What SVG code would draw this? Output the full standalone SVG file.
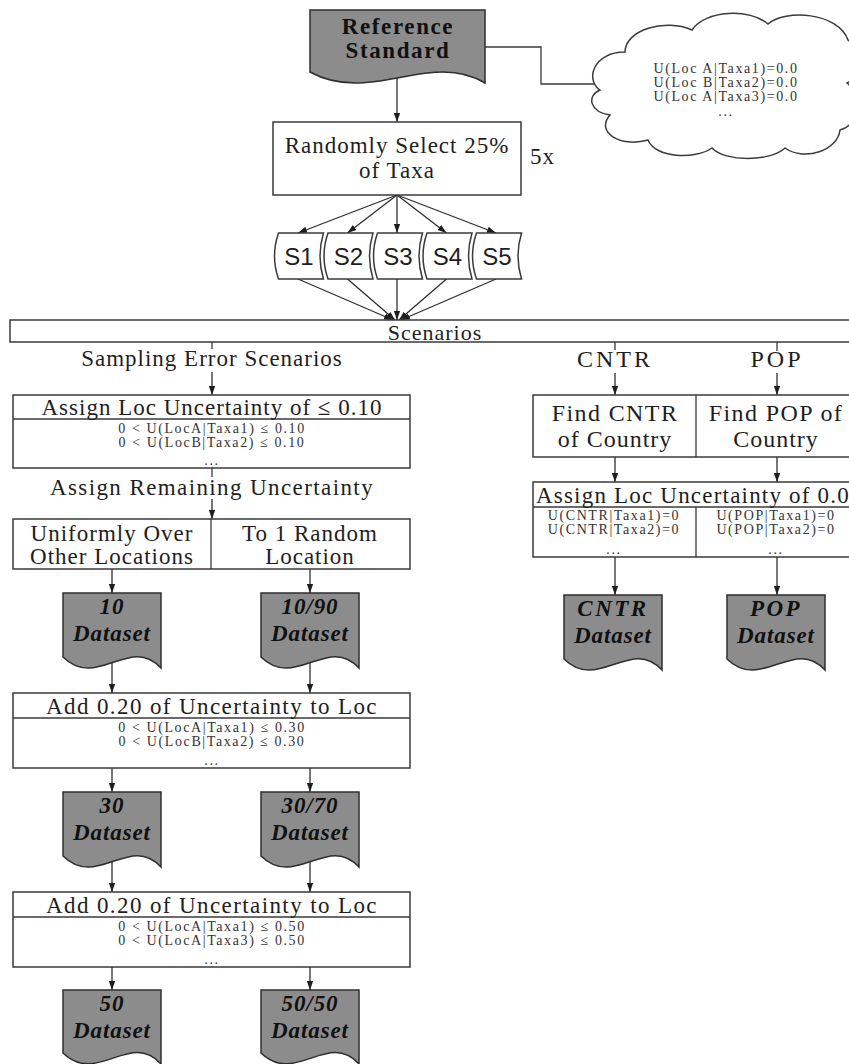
<svg xmlns="http://www.w3.org/2000/svg" width="849" height="1064" viewBox="0 0 849 1064">
<defs>
<style>
.box{fill:#fff;stroke:#3a3a3a;stroke-width:1.5}
.doc{fill:#8c8c8c;stroke:#2e2e2e;stroke-width:1.5}
.ln{fill:none;stroke:#3a3a3a;stroke-width:1.3}
.ar{fill:none;stroke:#2e2e2e;stroke-width:1.3;marker-end:url(#arr)}
.t{font-family:"Liberation Serif",serif;font-size:23px;letter-spacing:1px;fill:#1e1e1e;text-anchor:middle}
.sm{font-family:"Liberation Serif",serif;font-size:14px;letter-spacing:1.6px;fill:#333;text-anchor:middle}
.bd{font-family:"Liberation Serif",serif;font-size:23px;font-weight:bold;letter-spacing:1.6px;fill:#111;text-anchor:middle}
.di{font-family:"Liberation Serif",serif;font-size:23px;font-weight:bold;font-style:italic;letter-spacing:0.9px;fill:#111;text-anchor:middle}
.sa{font-family:"Liberation Sans",Arial,sans-serif;font-size:24px;fill:#1e1e1e;text-anchor:middle}
</style>
<marker id="arr" viewBox="0 0 10 10" refX="10" refY="5" markerWidth="9" markerHeight="9" orient="auto" markerUnits="userSpaceOnUse">
<path d="M0,1.5 L10,5 L0,8.5 Z" fill="#1e1e1e"/>
</marker>
</defs>

<g id="connectors">
<polyline class="ln" points="485,47 541,47 541,84 598,84"/>
<line class="ar" x1="397" y1="78" x2="397" y2="122"/>
<line class="ar" x1="397" y1="195" x2="298" y2="233"/>
<line class="ar" x1="397" y1="195" x2="347.5" y2="233"/>
<line class="ar" x1="397" y1="195" x2="397" y2="233"/>
<line class="ar" x1="397" y1="195" x2="446.5" y2="233"/>
<line class="ar" x1="397" y1="195" x2="496" y2="233"/>
<line class="ar" x1="298" y1="279" x2="393" y2="320"/>
<line class="ar" x1="347.5" y1="279" x2="395" y2="320"/>
<line class="ar" x1="397" y1="279" x2="397" y2="320"/>
<line class="ar" x1="446.5" y1="279" x2="399" y2="320"/>
<line class="ar" x1="496" y1="279" x2="401" y2="320"/>
<line class="ln" x1="212" y1="342" x2="212" y2="349"/>
<line class="ln" x1="615" y1="342" x2="615" y2="350"/>
<line class="ln" x1="777" y1="342" x2="777" y2="351"/>
<line class="ar" x1="212" y1="372" x2="212" y2="395"/>
<line class="ar" x1="615" y1="373" x2="615" y2="395"/>
<line class="ar" x1="777" y1="373" x2="777" y2="395"/>
<line class="ln" x1="212" y1="468" x2="212" y2="477"/>
<line class="ar" x1="212" y1="499" x2="212" y2="519"/>
<line class="ar" x1="112" y1="569" x2="112" y2="593"/>
<line class="ar" x1="310" y1="569" x2="310" y2="593"/>
<line class="ar" x1="112" y1="662" x2="112" y2="693"/>
<line class="ar" x1="310" y1="662" x2="310" y2="693"/>
<line class="ar" x1="112" y1="768" x2="112" y2="792"/>
<line class="ar" x1="310" y1="768" x2="310" y2="792"/>
<line class="ar" x1="112" y1="861" x2="112" y2="892"/>
<line class="ar" x1="310" y1="861" x2="310" y2="892"/>
<line class="ar" x1="112" y1="967" x2="112" y2="990"/>
<line class="ar" x1="310" y1="967" x2="310" y2="990"/>
<line class="ar" x1="615" y1="457" x2="615" y2="482"/>
<line class="ar" x1="777" y1="457" x2="777" y2="482"/>
<line class="ar" x1="615" y1="557" x2="615" y2="595"/>
<line class="ar" x1="777" y1="557" x2="777" y2="595"/>
</g>

<g id="reference-standard">
<path class="doc" d="M310,10 H485 V83 C430,50 370,105 310,72 Z"/>
<text class="bd" x="398" y="34">Reference</text>
<text class="bd" x="398" y="58">Standard</text>
</g>

<g id="cloud">
<path class="box" d="M600,90 C585,80 593,52 625,52 C625,30 665,18 692,30 C705,10 750,8 768,24 C785,9 838,12 848,40 C864,50 862,76 847,83 C862,95 860,125 840,130 C838,150 805,162 785,148 C770,162 725,162 712,148 C695,160 655,158 648,140 C620,148 595,132 610,115 C590,112 586,96 600,90 Z"/>
<text class="sm" x="726" y="73">U(Loc A|Taxa1)=0.0</text>
<text class="sm" x="726" y="87">U(Loc B|Taxa2)=0.0</text>
<text class="sm" x="726" y="101">U(Loc A|Taxa3)=0.0</text>
<text class="sm" x="726" y="116">...</text>
</g>

<g id="random-select">
<rect class="box" x="273" y="122" width="248" height="73"/>
<text class="t" x="397" y="153">Randomly Select 25%</text>
<text class="t" x="397" y="178">of Taxa</text>
<text class="t" x="530" y="164" style="text-anchor:start">5x</text>
</g>

<g id="s1"><path class="box" d="M278.5,233 H323.5 Q316.5,256 323.5,279 H278.5 Q270.5,256 278.5,233 Z"/><text class="sa" x="299" y="265">S1</text></g>
<g id="s2"><path class="box" d="M328,233 H373 Q366,256 373,279 H328 Q320,256 328,233 Z"/><text class="sa" x="348.5" y="265">S2</text></g>
<g id="s3"><path class="box" d="M377.5,233 H422.5 Q415.5,256 422.5,279 H377.5 Q369.5,256 377.5,233 Z"/><text class="sa" x="398" y="265">S3</text></g>
<g id="s4"><path class="box" d="M427,233 H472 Q465,256 472,279 H427 Q419,256 427,233 Z"/><text class="sa" x="447.5" y="265">S4</text></g>
<g id="s5"><path class="box" d="M476.5,233 H521.5 Q514.5,256 521.5,279 H476.5 Q468.5,256 476.5,233 Z"/><text class="sa" x="497" y="265">S5</text></g>

<g id="scenarios">
<rect class="box" x="10" y="320" width="860" height="22"/>
<text class="t" x="435" y="340" style="font-size:22px">Scenarios</text>
</g>

<g id="labels">
<text class="t" x="212" y="366">Sampling Error Scenarios</text>
<text class="t" x="615" y="367" style="font-size:24px;letter-spacing:3px">CNTR</text>
<text class="t" x="777" y="367" style="font-size:24px;letter-spacing:3px">POP</text>
<text class="t" x="212" y="495" style="letter-spacing:1.4px">Assign Remaining Uncertainty</text>
</g>

<g id="assign-010">
<rect class="box" x="13" y="395" width="397" height="73"/>
<line class="ln" x1="13" y1="419" x2="410" y2="419"/>
<text class="t" x="212" y="415">Assign Loc Uncertainty of ≤ 0.10</text>
<text class="sm" x="212" y="433">0 &lt; U(LocA|Taxa1) ≤ 0.10</text>
<text class="sm" x="212" y="447">0 &lt; U(LocB|Taxa2) ≤ 0.10</text>
<text class="sm" x="212" y="465">...</text>
</g>

<g id="remaining">
<rect class="box" x="13" y="519" width="397" height="50"/>
<line class="ln" x1="211" y1="519" x2="211" y2="569"/>
<text class="t" x="112" y="541">Uniformly Over</text>
<text class="t" x="112" y="564">Other Locations</text>
<text class="t" x="310" y="541">To 1 Random</text>
<text class="t" x="310" y="564">Location</text>
</g>

<g id="ds10"><path class="doc" d="M63,593 H161 V668 C130,634 97,690.5 63,657 Z"/><text class="di" x="112" y="614">10</text><text class="di" x="112" y="641">Dataset</text></g>
<g id="ds1090"><path class="doc" d="M261,593 H359 V668 C328,634 295,690.5 261,657 Z"/><text class="di" x="310" y="614">10/90</text><text class="di" x="310" y="641">Dataset</text></g>

<g id="add-030">
<rect class="box" x="13" y="693" width="397" height="75"/>
<line class="ln" x1="13" y1="718" x2="410" y2="718"/>
<text class="t" x="212" y="714" style="letter-spacing:1.4px">Add 0.20 of Uncertainty to Loc</text>
<text class="sm" x="212" y="732">0 &lt; U(LocA|Taxa1) ≤ 0.30</text>
<text class="sm" x="212" y="746">0 &lt; U(LocB|Taxa2) ≤ 0.30</text>
<text class="sm" x="212" y="765">...</text>
</g>

<g id="ds30"><path class="doc" d="M63,792 H161 V867 C130,833 97,889.5 63,856 Z"/><text class="di" x="112" y="813">30</text><text class="di" x="112" y="840">Dataset</text></g>
<g id="ds3070"><path class="doc" d="M261,792 H359 V867 C328,833 295,889.5 261,856 Z"/><text class="di" x="310" y="813">30/70</text><text class="di" x="310" y="840">Dataset</text></g>

<g id="add-050">
<rect class="box" x="13" y="892" width="397" height="75"/>
<line class="ln" x1="13" y1="917" x2="410" y2="917"/>
<text class="t" x="212" y="913" style="letter-spacing:1.4px">Add 0.20 of Uncertainty to Loc</text>
<text class="sm" x="212" y="931">0 &lt; U(LocA|Taxa1) ≤ 0.50</text>
<text class="sm" x="212" y="945">0 &lt; U(LocA|Taxa3) ≤ 0.50</text>
<text class="sm" x="212" y="964">...</text>
</g>

<g id="ds50"><path class="doc" d="M63,990 H161 V1064 C130,1030 97,1086 63,1053 Z"/><text class="di" x="112" y="1011">50</text><text class="di" x="112" y="1038">Dataset</text></g>
<g id="ds5050"><path class="doc" d="M261,990 H359 V1064 C328,1030 295,1086 261,1053 Z"/><text class="di" x="310" y="1011">50/50</text><text class="di" x="310" y="1038">Dataset</text></g>

<g id="find">
<rect class="box" x="533" y="395" width="330" height="62"/>
<line class="ln" x1="696" y1="395" x2="696" y2="457"/>
<text class="t" x="615" y="421" style="font-size:24px;letter-spacing:1.4px">Find CNTR</text>
<text class="t" x="615" y="447" style="font-size:24px">of Country</text>
<text class="t" x="776" y="421" style="font-size:24px;letter-spacing:1.4px">Find POP of</text>
<text class="t" x="776" y="447" style="font-size:24px">Country</text>
</g>

<g id="assign-00">
<rect class="box" x="533" y="482" width="330" height="75"/>
<line class="ln" x1="533" y1="507" x2="863" y2="507"/>
<line class="ln" x1="696" y1="507" x2="696" y2="557"/>
<text class="t" x="536" y="503" style="text-anchor:start;letter-spacing:1.2px">Assign Loc Uncertainty of 0.0</text>
<text class="sm" x="614" y="520">U(CNTR|Taxa1)=0</text>
<text class="sm" x="614" y="534">U(CNTR|Taxa2)=0</text>
<text class="sm" x="614" y="554">...</text>
<text class="sm" x="776" y="520">U(POP|Taxa1)=0</text>
<text class="sm" x="776" y="534">U(POP|Taxa2)=0</text>
<text class="sm" x="776" y="554">...</text>
</g>

<g id="ds-cntr"><path class="doc" d="M564,595 H662 V670 C631,636 598,692.5 564,659 Z"/><text class="di" x="613" y="616" style="letter-spacing:2.5px">CNTR</text><text class="di" x="613" y="643">Dataset</text></g>
<g id="ds-pop"><path class="doc" d="M727,595 H825 V670 C794,636 761,692.5 727,659 Z"/><text class="di" x="776" y="616" style="letter-spacing:2.5px">POP</text><text class="di" x="776" y="643">Dataset</text></g>
</svg>
